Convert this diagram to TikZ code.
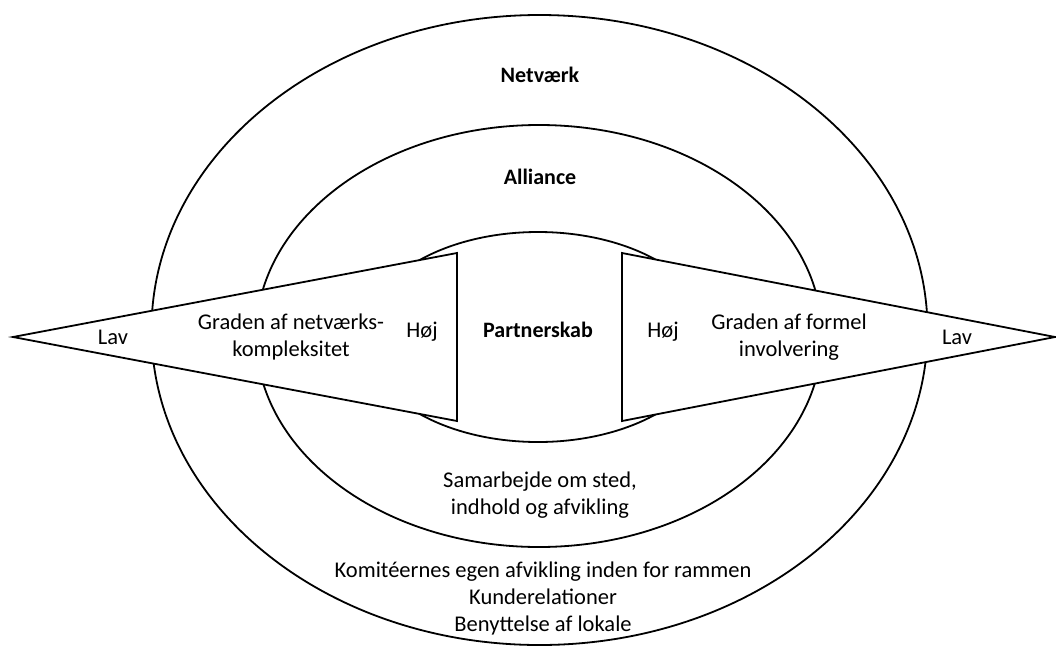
\documentclass[tikz,border=0pt]{standalone}
\usepackage{fontspec}
\setmainfont{Carlito}
\usetikzlibrary{positioning}

\begin{document}
\begin{tikzpicture}[
  x=1pt, y=-1pt,
  ring/.style={draw, line width=1.8pt},
  wedge/.style={draw, fill=white, line width=1.8pt, line join=miter},
  level/.style={font=\fontsize{22}{27}\selectfont\bfseries, inner sep=0pt},
  label/.style={font=\fontsize{22.5}{27}\selectfont, align=center, inner sep=0pt},
]
\useasboundingbox (0,0) rectangle (1056,646);

% === Nested forms of cooperation ===
\coordinate (c-netv) at (539.5,330);
\coordinate (c-alli) at (539,336);
\coordinate (c-part) at (538,337);
\draw[ring] (c-netv) ellipse [x radius=388, y radius=315];
\draw[ring] (c-alli) ellipse [x radius=283, y radius=211];
\draw[ring] (c-part) ellipse [x radius=174, y radius=105];

% === Wedges ===
\coordinate (l-apex) at (13,337);
\coordinate (l-top) at (457,253);
\coordinate (l-bot) at (457,421);
\coordinate (r-apex) at (1055,337);
\coordinate (r-top) at (622,253);
\coordinate (r-bot) at (622,421);
\draw[wedge] (l-apex) -- (l-top) -- (l-bot) -- cycle;
\draw[wedge] (r-apex) -- (r-top) -- (r-bot) -- cycle;

% === Level names ===
\node[level] (netv) at (540,75) {Netværk};
\node[level] (alli) at (540,177) {Alliance};
\node[level] (part) at (538,330) {Partnerskab};

% === Wedge labels ===
\node[label] (l-lav) at (113,337) {Lav};
\node[label] (l-grad) at (291,337) {Graden af netværks-\\kompleksitet};
\node[label] (l-hoj) at (422,332) {Høj};
\node[label] (r-hoj) at (663,332) {Høj};
\node[label] (r-grad) at (789,337) {Graden af formel\\involvering};
\node[label] (r-lav) at (957,337) {Lav};

% === Contents ===
\node[label] (alli-txt) at (540,495) {Samarbejde om sted,\\indhold og afvikling};
\node[label] (netv-txt) at (543,598) {Komitéernes egen afvikling inden for rammen\\Kunderelationer\\Benyttelse af lokale};

\end{tikzpicture}
\end{document}
